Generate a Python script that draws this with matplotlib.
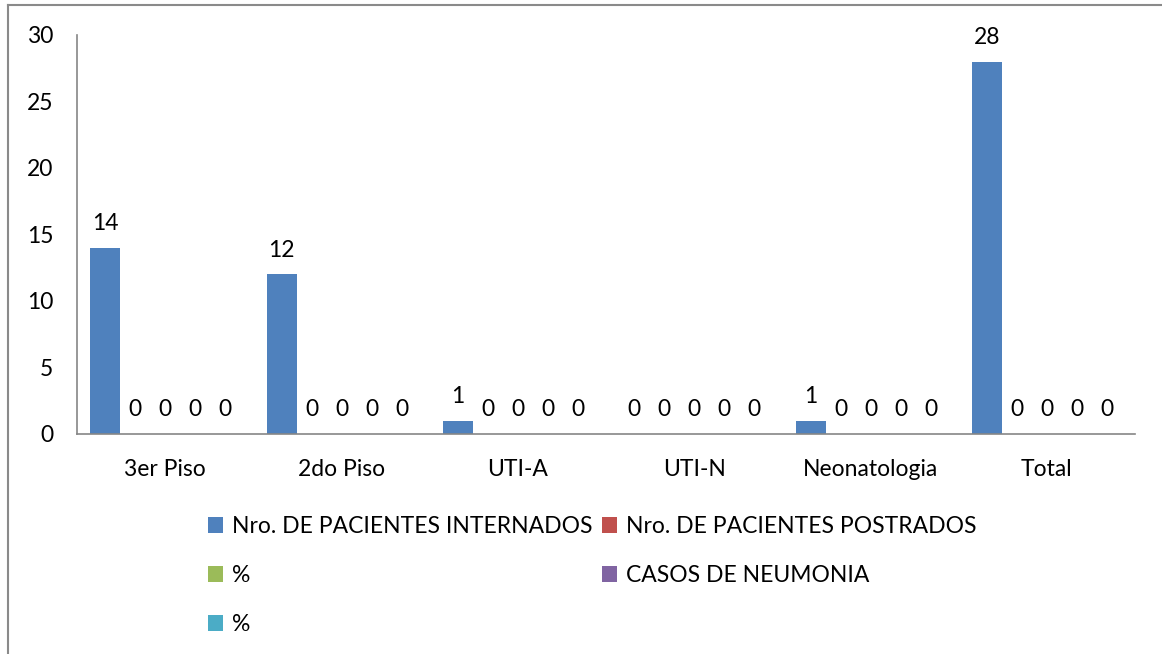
import matplotlib
matplotlib.use("Agg")
import matplotlib.pyplot as plt
from matplotlib.lines import Line2D
from matplotlib.patches import Patch
import numpy as np

plt.rcParams['font.family'] = ['Lato', 'DejaVu Sans']

categories = ["3er Piso", "2do Piso", "UTI-A", "UTI-N", "Neonatologia", "Total"]
series_names = ["Nro. DE PACIENTES INTERNADOS", "Nro. DE PACIENTES POSTRADOS",
                "%", "CASOS DE NEUMONIA", "%"]
internados = [14, 12, 1, 0, 1, 28]
postrados = [0, 0, 0, 0, 0, 0]
pct_postrados = [0, 0, 0, 0, 0, 0]
neumonia = [0, 0, 0, 0, 0, 0]
pct_neumonia = [0, 0, 0, 0, 0, 0]
series = [internados, postrados, pct_postrados, neumonia, pct_neumonia]
colors = ["#4F81BD", "#C0504D", "#9BBB59", "#8064A2", "#4BACC6"]

fs = 16.5
axis_grey = "#868686"

fig = plt.figure(figsize=(11.62, 6.54), dpi=100)
ax = fig.add_axes([0.0663, 0.3364, 0.9105, 0.6101])

x = np.arange(len(categories))
width = 0.17
handles = []
for i, (vals, col) in enumerate(zip(series, colors)):
    bars = ax.bar(x + (i - 2) * width, vals, width, color=col, label=series_names[i])
    ax.bar_label(bars, padding=10, fontsize=fs, color="black")
    handles.append(Patch(facecolor=col, edgecolor="none", label=series_names[i]))

ax.set_xlim(-0.5, len(categories) - 0.5)
ax.set_ylim(0, 30)
ax.set_yticks(range(0, 31, 5))
ax.set_xticks(x)
ax.set_xticklabels(categories)
ax.tick_params(axis="both", length=0, labelsize=fs)
ax.tick_params(axis="y", pad=17)
ax.tick_params(axis="x", pad=18)
for side in ["top", "right"]:
    ax.spines[side].set_visible(False)
for side in ["left", "bottom"]:
    ax.spines[side].set_color(axis_grey)
    ax.spines[side].set_linewidth(1.2)

# legend laid out row by row, two columns
order = [0, 2, 4, 1, 3]
fig.legend([handles[k] for k in order], [series_names[k] for k in order],
           ncol=2, loc="upper left", bbox_to_anchor=(0.179, 0.211),
           frameon=False, fontsize=fs, handlelength=0.65, handleheight=0.65,
           handletextpad=0.4, columnspacing=0.4, labelspacing=1.22,
           borderaxespad=0, borderpad=0)

# outer chart border (left and top edges)
fig.add_artist(Line2D([0.0069, 0.0069], [0, 0.9924], color="#8a8a8a", lw=1.5,
                      transform=fig.transFigure))
fig.add_artist(Line2D([0.0069, 1.0], [0.9924, 0.9924], color="#8a8a8a", lw=1.5,
                      transform=fig.transFigure))

fig.savefig("out.png", dpi=100, facecolor="white")
